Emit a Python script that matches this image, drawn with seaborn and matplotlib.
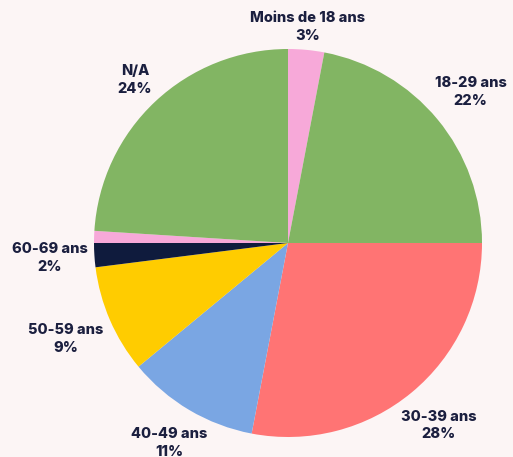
import matplotlib
matplotlib.use("Agg")
import matplotlib.pyplot as plt
import seaborn as sns

# Age groups and shares (%)
groups = ["Moins de 18 ans", "18-29 ans", "30-39 ans", "40-49 ans",
          "50-59 ans", "60-69 ans", "70 ans et plus", "N/A"]
shares = [3, 22, 28, 11, 9, 2, 1, 24]
show_label = [True, True, True, True, True, True, False, True]
colors = ["#f7a9d9", "#82b563", "#ff7474", "#7aa6e3",
          "#ffcc00", "#0f1b3d", "#f7a9d9", "#82b563"]

bg = "#fcf5f5"
ink = "#1b1f3f"

sns.set_theme(style="white")
plt.rcParams["font.family"] = ["Inter", "DejaVu Sans"]

fig = plt.figure(figsize=(5.13, 4.57), dpi=100, facecolor=bg)
ax = fig.add_axes([0, 0, 1, 1])
ax.set_facecolor(bg)

wedges, _ = ax.pie(shares, colors=colors, startangle=90, counterclock=False,
                   radius=1, wedgeprops=dict(linewidth=0))

# label anchor points (offset from centre, in radius units)
label_pos = [(0.103, 1.113), (0.941, 0.778), (0.776, -0.941), (-0.611, -1.031),
             (-1.144, -0.495), (-1.227, -0.077), None, (-0.789, 0.840)]

for name, val, show, pos in zip(groups, shares, show_label, label_pos):
    if not show:
        continue
    ax.text(pos[0], pos[1], f"{name}\n{val}%", ha="center", va="center",
            fontsize=10.5, fontweight="heavy", color=ink, linespacing=1.35)

# centre of the pie sits at (288, 243) px, radius 194 px
r = 194
ax.set_aspect("auto")
ax.set_xlim(-288 / r, (513 - 288) / r)
ax.set_ylim(-(457 - 243) / r, 243 / r)
ax.axis("off")

fig.savefig("out.png", dpi=100, facecolor=bg)
